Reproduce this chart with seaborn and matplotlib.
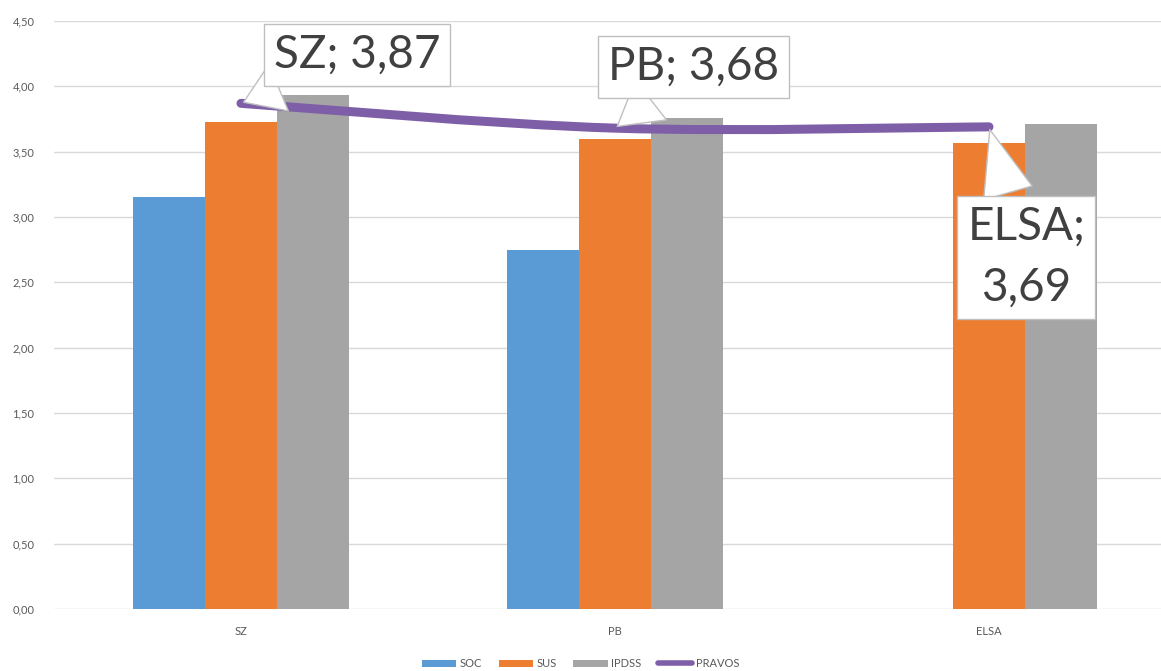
import numpy as np
import pandas as pd
import matplotlib
matplotlib.use("Agg")
import matplotlib.pyplot as plt
import seaborn as sns
from matplotlib.path import Path
from matplotlib.patches import PathPatch
from matplotlib.lines import Line2D

# --- data ---
categories = ["SZ", "PB", "ELSA"]
soc = [3.15, 2.75, np.nan]
sus = [3.73, 3.60, 3.57]
ipdss = [3.93, 3.76, 3.71]
pravos = [3.87, 3.68, 3.69]
series_names = ["SOC", "SUS", "IPDSS"]
pravos_name = "PRAVOS"
callout_labels = ["SZ; 3,87", "PB; 3,68", "ELSA;\n3,69"]
yticks = [0, 0.5, 1.0, 1.5, 2.0, 2.5, 3.0, 3.5, 4.0, 4.5]

colors = {"SOC": "#5B9BD5", "SUS": "#ED7D31", "IPDSS": "#A5A5A5"}
line_color = "#7E5FA7"
text_color = "#595959"

df = pd.DataFrame({
    "kategorija": categories * 3,
    "serija": sum([[s] * len(categories) for s in series_names], []),
    "vrednost": soc + sus + ipdss,
})

sns.set_theme(style="white")
plt.rcParams["font.family"] = ["Lato", "DejaVu Sans"]

fig = plt.figure(figsize=(11.61, 6.71), dpi=100)
ax = fig.add_axes([0.0465, 0.0924, 0.9535, 0.8763])

sns.barplot(data=df, x="kategorija", y="vrednost", hue="serija",
            palette=colors, width=0.58, saturation=1, ax=ax, legend=False,
            linewidth=0, edgecolor="none")

ax.set_ylim(0, 4.5)
ax.set_xlim(-0.5, -0.5 + (1161 - 54) / 374)
ax.set_yticks(yticks)
ax.set_yticklabels([f"{v:.2f}".replace(".", ",") for v in yticks])
ax.yaxis.grid(True, color="#D9D9D9", linewidth=1)
ax.set_axisbelow(True)
for s in ax.spines.values():
    s.set_visible(False)
ax.tick_params(axis="both", length=0, colors=text_color, labelsize=8)
ax.tick_params(axis="x", pad=12)
ax.tick_params(axis="y", pad=14)
ax.set_xlabel("")
ax.set_ylabel("")

# smoothed line (Catmull-Rom style bezier through the data points)
x = np.arange(len(pravos), dtype=float)
pts = np.column_stack([x, pravos])
ext = np.vstack([pts[0], pts, pts[-1]])
verts = [tuple(pts[0])]
codes = [Path.MOVETO]
for i in range(len(pts) - 1):
    p0, p1, p2, p3 = ext[i], ext[i + 1], ext[i + 2], ext[i + 3]
    c1 = p1 + (p2 - p0) / 6
    c2 = p2 - (p3 - p1) / 6
    verts += [tuple(c1), tuple(c2), tuple(p2)]
    codes += [Path.CURVE4] * 3
ax.add_patch(PathPatch(Path(verts, codes), fc="none", ec=line_color, lw=6.5,
                       capstyle="round", joinstyle="round", zorder=5))

# callouts
text_pos = [(0.31, 4.24), (1.21, 4.15), (2.10, 2.69)]
for i, (lab, (tx, ty)) in enumerate(zip(callout_labels, text_pos)):
    ax.annotate(lab, xy=(x[i], pravos[i]), xytext=(tx, ty),
                textcoords="data", ha="center", va="center",
                fontsize=33, color="#404040", zorder=6, annotation_clip=False,
                linespacing=1.55,
                bbox=dict(boxstyle="square,pad=0.22", fc="white", ec="#BFBFBF", lw=1),
                arrowprops=dict(arrowstyle="wedge,tail_width=1.1,shrink_factor=0.5",
                                fc="white", ec="#BFBFBF", lw=1))

handles = [plt.Rectangle((0, 0), 1, 1, fc=colors[s], ec="none") for s in series_names]
handles.append(Line2D([0], [0], color=line_color, lw=4))
leg = fig.legend(handles, series_names + [pravos_name], loc="lower center",
                 bbox_to_anchor=(0.5, -0.012), ncol=4, frameon=False, fontsize=8,
                 handlelength=3.1, handleheight=0.6, handletextpad=0.3,
                 columnspacing=1.5)
for t in leg.get_texts():
    t.set_color(text_color)

fig.savefig("out.png", dpi=100)
